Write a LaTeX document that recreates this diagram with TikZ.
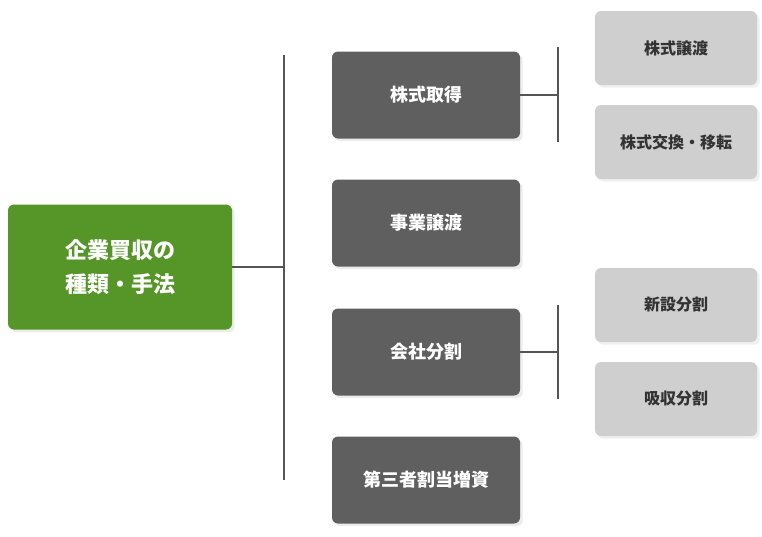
\documentclass[tikz,border=0pt]{standalone}
\usepackage{fontspec}
\setmainfont{Noto Sans CJK JP}
\usetikzlibrary{shadows}
\definecolor{rootgreen}{RGB}{86,150,40}
\definecolor{darkbox}{RGB}{95,95,95}
\definecolor{lightbox}{RGB}{207,207,207}
\definecolor{linegray}{RGB}{85,85,85}
\tikzset{
  rootbox/.style={fill=rootgreen, rounded corners=6pt, text=white, font=\fontsize{22}{34}\selectfont\bfseries, align=center, minimum width=224pt, minimum height=125pt, drop shadow={opacity=0.15}},
  midbox/.style={fill=darkbox, rounded corners=6pt, text=white, font=\fontsize{18}{30}\selectfont\bfseries, align=center, text width=150pt, minimum width=188pt, minimum height=87pt, drop shadow={opacity=0.15}},
  leafbox/.style={fill=lightbox, rounded corners=6pt, text=black!80, font=\fontsize{16}{27}\selectfont\bfseries, align=center, text width=130pt, minimum width=162pt, minimum height=74pt, drop shadow={opacity=0.12}},
  branch/.style={draw=linegray, line width=1.6pt}
}
\begin{document}
\begin{tikzpicture}[x=1pt,y=1pt,yscale=-1]
\useasboundingbox (0,0) rectangle (762,536);
% root
\node[rootbox] (root) at (120,267) {企業買収の\\種類・手法};
% second level
\node[midbox] (kabu) at (426,95) {株式取得};
\node[midbox] (jigyo) at (426,223) {事業譲渡};
\node[midbox] (bunkatsu) at (426,352) {会社分割};
\node[midbox] (zoushi) at (426,480) {第三者割当増資};
% third level
\node[leafbox] (jouto) at (676,48) {株式譲渡};
\node[leafbox] (koukan) at (676,142) {株式交換・移転};
\node[leafbox] (shinsetsu) at (676,305) {新設分割};
\node[leafbox] (kyushu) at (676,399) {吸収分割};
% branches
\coordinate (trunk) at (284,267);
\draw[branch] (root.east) -- (trunk);
\draw[branch] (284,55) -- (284,480);
\draw[branch] (kabu.east) -- (558,95);
\draw[branch] (558,47) -- (558,142);
\draw[branch] (bunkatsu.east) -- (558,352);
\draw[branch] (558,305) -- (558,399);
\end{tikzpicture}
\end{document}
